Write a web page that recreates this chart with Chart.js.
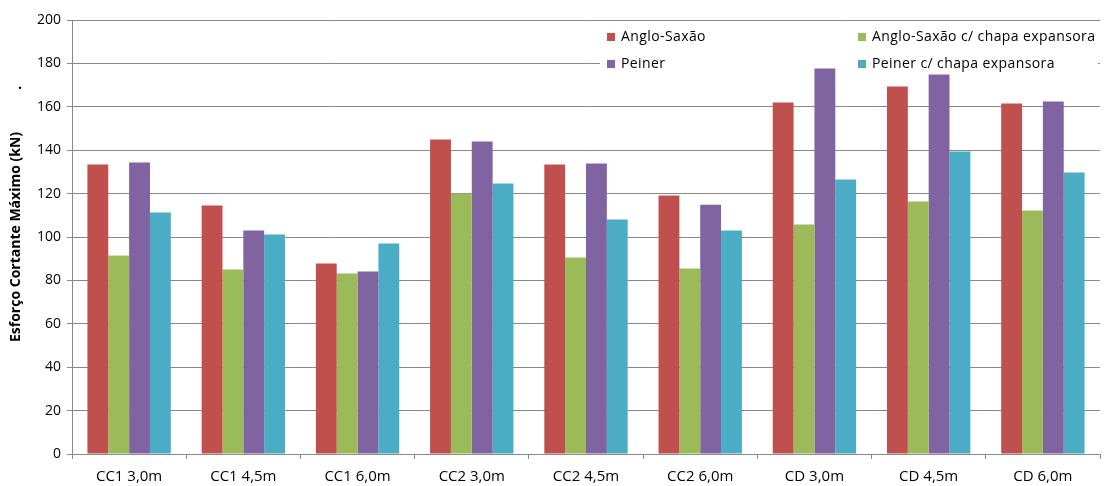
<!DOCTYPE html>
<html>
<head>
<meta charset="utf-8">
<script src="https://cdn.jsdelivr.net/npm/chart.js@4.4.1/dist/chart.umd.min.js"></script>
<style>
  html, body { margin: 0; padding: 0; background: #ffffff; }
  #wrap { width: 1104px; height: 486px; }
</style>
</head>
<body>
<div id="wrap"><canvas id="c" width="1104" height="486"></canvas></div>
<script>
const categories = ['CC1 3,0m','CC1 4,5m','CC1 6,0m','CC2 3,0m','CC2 4,5m','CC2 6,0m','CD 3,0m','CD 4,5m','CD 6,0m'];
const seriesNames = ['Anglo-Saxão','Anglo-Saxão c/ chapa expansora','Peiner','Peiner c/ chapa expansora'];
const angloSaxao      = [133.4, 114.5, 87.8, 144.9, 133.4, 119.1, 162.0, 169.4, 161.5];
const angloSaxaoChapa = [91.5, 85.0, 83.2, 120.0, 90.6, 85.5, 105.8, 116.4, 112.2];
const peiner          = [134.3, 103.0, 84.1, 144.0, 133.9, 114.9, 177.6, 174.9, 162.4];
const peinerChapa     = [111.3, 101.2, 97.0, 124.6, 108.1, 103.0, 126.5, 139.4, 129.7];
const yMin = 0, yMax = 200, yStep = 20;
const colors = ['#C0504D', '#9BBB59', '#8064A2', '#4BACC6'];
const yTitle = 'Esforço Cortante Máximo (kN)';

const FONT = "'Open Sans', 'Liberation Sans', sans-serif";

const legendPlugin = {
  id: 'boxLegend',
  afterDraw(chart) {
    const ctx = chart.ctx;
    const ca = chart.chartArea;
    const right = ca.right;
    const top = ca.top;
    ctx.save();
    ctx.fillStyle = '#ffffff';
    ctx.fillRect(right - 500, top + 2, 498, 46);
    ctx.font = '14px ' + FONT;
    try { ctx.letterSpacing = '0.4px'; } catch (e) {}
    ctx.textBaseline = 'middle';
    ctx.textAlign = 'left';
    const colX = [right - 493, right - 242];
    const rowY = [top + 17, top + 44];
    chart.data.datasets.forEach((ds, i) => {
      const cx = colX[i % 2];
      const cy = rowY[Math.floor(i / 2)];
      ctx.fillStyle = ds.backgroundColor;
      ctx.fillRect(cx, cy - 4, 8, 8);
      ctx.fillStyle = '#000000';
      ctx.fillText(ds.label, cx + 14, cy);
    });
    try { ctx.letterSpacing = '0px'; } catch (e) {}
    // stray dot near axis title
    ctx.font = 'bold 14px ' + FONT;
    ctx.textAlign = 'center';
    ctx.fillText('.', 20, 85);
    ctx.restore();
  }
};

new Chart(document.getElementById('c'), {
  type: 'bar',
  data: {
    labels: categories,
    datasets: [
      { label: seriesNames[0], data: angloSaxao, backgroundColor: colors[0] },
      { label: seriesNames[1], data: angloSaxaoChapa, backgroundColor: colors[1] },
      { label: seriesNames[2], data: peiner, backgroundColor: colors[2] },
      { label: seriesNames[3], data: peinerChapa, backgroundColor: colors[3] }
    ]
  },
  options: {
    responsive: false,
    animation: false,
    devicePixelRatio: 1,
    layout: { padding: { top: 20, right: 4, left: 0, bottom: 0 } },
    datasets: { bar: { categoryPercentage: 0.73, barPercentage: 1.0, borderWidth: 0 } },
    plugins: {
      legend: { display: false },
      tooltip: { enabled: false }
    },
    scales: {
      x: {
        grid: { display: true, drawOnChartArea: false, drawTicks: true, tickLength: 5, color: '#888888', offset: true },
        border: { display: true, color: '#888888', width: 1 },
        ticks: { color: '#000000', font: { family: FONT, size: 15 }, padding: 9, maxRotation: 0, autoSkip: false },
        afterFit(scale) { scale.height = 32; }
      },
      y: {
        min: yMin, max: yMax,
        grid: { color: '#888888', drawTicks: true, tickLength: 5, lineWidth: 1 },
        border: { display: true, color: '#888888', width: 1 },
        ticks: { stepSize: yStep, color: '#000000', font: { family: FONT, size: 14 }, padding: 6 },
        title: { display: true, text: yTitle, color: '#000000', font: { family: FONT, size: 14, weight: 'bold' }, padding: { top: 8, bottom: 0 } },
        afterFit(scale) { scale.width = 72; }
      }
    }
  },
  plugins: [legendPlugin]
});
</script>
</body>
</html>
